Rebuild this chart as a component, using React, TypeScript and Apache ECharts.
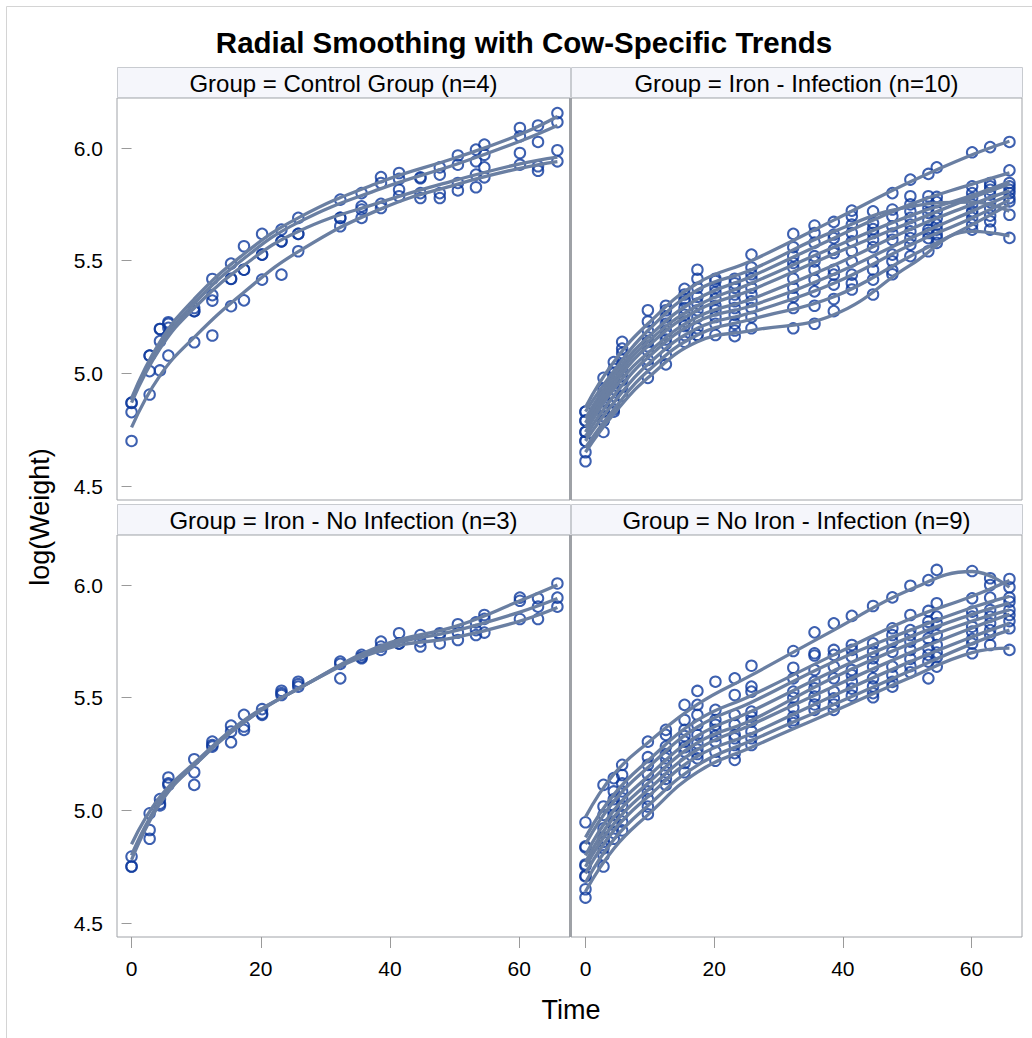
import React, { useEffect, useRef } from "react";
import * as echarts from "echarts";

// Observation times (shared by every cow)
const TIMES = [0, 2.8, 4.4, 5.7, 9.7, 12.5, 15.4, 17.4, 20.2, 23.2, 25.8, 32.3, 35.6, 38.6, 41.4, 44.7, 47.7, 50.5, 53.3, 54.6, 60.1, 62.9, 65.9];
// Times at which the fitted cow-specific trends are listed
const FIT_TIMES = [0, 4.4, 9.7, 17.4, 25.8, 38.6, 50.5, 60.1, 65.9];

const X_TICKS = [0, 20, 40, 60];
const Y_TICKS = [4.5, 5.0, 5.5, 6.0];

const PANEL_TITLES = [
  "Group = Control Group (n=4)",
  "Group = Iron - Infection (n=10)",
  "Group = Iron - No Infection (n=3)",
  "Group = No Iron - Infection (n=9)",
];

// ---- Control Group (n=4): observed log(weight)
const controlObs = [
  [4.87, 5.079, 5.197, 5.227, 5.276, 5.419, 5.487, 5.564, 5.619, 5.638, 5.69, 5.771, 5.8, 5.871, 5.889, 5.87, 5.914, 5.967, 5.993, 6.015, 6.089, 6.1, 6.155],
  [4.869, 5.01, 5.143, 5.202, 5.29, 5.347, 5.419, 5.46, 5.527, 5.586, 5.619, 5.69, 5.741, 5.845, 5.863, 5.866, 5.882, 5.926, 5.941, 5.97, 6.052, 6.027, 6.115],
  [4.828, 5.079, 5.197, 5.22, 5.276, 5.323, 5.42, 5.46, 5.527, 5.586, 5.619, 5.69, 5.727, 5.752, 5.815, 5.8, 5.8, 5.845, 5.882, 5.914, 5.978, 5.919, 5.99],
  [4.7, 4.906, 5.013, 5.079, 5.138, 5.168, 5.298, 5.324, 5.416, 5.438, 5.542, 5.653, 5.69, 5.734, 5.786, 5.778, 5.778, 5.812, 5.826, 5.87, 5.926, 5.899, 5.941],
];
const controlFit = [
  [4.89, 5.14, 5.33, 5.53, 5.69, 5.85, 5.96, 6.06, 6.14],
  [4.88, 5.12, 5.31, 5.51, 5.67, 5.82, 5.93, 6.03, 6.1],
  [4.87, 5.11, 5.29, 5.48, 5.63, 5.76, 5.86, 5.93, 5.96],
  [4.76, 4.99, 5.16, 5.36, 5.54, 5.73, 5.84, 5.91, 5.94],
];

// ---- Iron - Infection (n=10)
const ironInfObs = [
  [4.83, 4.98, 5.05, 5.14, 5.28, 5.3, 5.375, 5.46, 5.42, 5.42, 5.527, 5.619, 5.656, 5.672, 5.722, 5.719, 5.8, 5.86, 5.885, 5.914, 5.981, 6.004, 6.027],
  [4.83, 4.93, 5.02, 5.11, 5.23, 5.28, 5.35, 5.42, 5.41, 5.4, 5.47, 5.56, 5.623, 5.616, 5.697, 5.667, 5.727, 5.75, 5.76, 5.76, 5.749, 5.76, 5.704],
  [4.79, 4.9, 5.0, 5.09, 5.19, 5.25, 5.33, 5.38, 5.38, 5.38, 5.44, 5.52, 5.58, 5.6, 5.66, 5.64, 5.697, 5.786, 5.786, 5.783, 5.83, 5.845, 5.901],
  [4.79, 4.88, 4.98, 5.06, 5.16, 5.22, 5.32, 5.34, 5.36, 5.35, 5.42, 5.49, 5.52, 5.549, 5.623, 5.623, 5.653, 5.719, 5.734, 5.719, 5.778, 5.815, 5.845],
  [4.74, 4.85, 4.96, 5.04, 5.14, 5.19, 5.29, 5.31, 5.33, 5.32, 5.38, 5.47, 5.497, 5.534, 5.586, 5.593, 5.62, 5.69, 5.712, 5.69, 5.8, 5.83, 5.83],
  [4.74, 4.83, 4.93, 5.01, 5.12, 5.17, 5.26, 5.28, 5.3, 5.29, 5.35, 5.42, 5.46, 5.46, 5.542, 5.56, 5.593, 5.66, 5.68, 5.66, 5.72, 5.793, 5.815],
  [4.7, 4.81, 4.9, 4.99, 5.1, 5.15, 5.23, 5.25, 5.28, 5.26, 5.32, 5.38, 5.416, 5.438, 5.497, 5.497, 5.527, 5.63, 5.638, 5.638, 5.712, 5.734, 5.8],
  [4.7, 4.79, 4.87, 4.97, 5.06, 5.13, 5.21, 5.2, 5.25, 5.22, 5.29, 5.34, 5.364, 5.394, 5.438, 5.46, 5.497, 5.6, 5.623, 5.616, 5.69, 5.7, 5.778],
  [4.65, 4.79, 4.84, 4.94, 5.04, 5.08, 5.17, 5.17, 5.22, 5.19, 5.25, 5.29, 5.3, 5.33, 5.4, 5.416, 5.457, 5.571, 5.6, 5.6, 5.66, 5.675, 5.763],
  [4.61, 4.74, 4.83, 4.9, 4.98, 5.04, 5.14, 5.17, 5.17, 5.165, 5.2, 5.2, 5.22, 5.276, 5.372, 5.35, 5.44, 5.52, 5.542, 5.579, 5.638, 5.638, 5.601],
];
const ironInfFit = [
  [4.85, 5.05, 5.22, 5.4, 5.5, 5.68, 5.85, 5.97, 6.03],
  [4.83, 5.01, 5.19, 5.37, 5.46, 5.63, 5.74, 5.76, 5.72],
  [4.8, 4.99, 5.16, 5.33, 5.43, 5.6, 5.75, 5.84, 5.89],
  [4.78, 4.97, 5.14, 5.3, 5.4, 5.56, 5.7, 5.79, 5.85],
  [4.76, 4.95, 5.12, 5.28, 5.37, 5.53, 5.67, 5.78, 5.84],
  [4.74, 4.93, 5.09, 5.25, 5.33, 5.48, 5.64, 5.75, 5.81],
  [4.72, 4.9, 5.07, 5.23, 5.3, 5.44, 5.6, 5.72, 5.79],
  [4.7, 4.87, 5.04, 5.2, 5.27, 5.4, 5.57, 5.69, 5.77],
  [4.67, 4.84, 5.01, 5.17, 5.24, 5.34, 5.52, 5.66, 5.75],
  [4.65, 4.82, 4.98, 5.14, 5.19, 5.26, 5.48, 5.63, 5.61],
];

// ---- Iron - No Infection (n=3)
const ironNoInfObs = [
  [4.795, 4.987, 5.05, 5.146, 5.227, 5.305, 5.376, 5.424, 5.449, 5.531, 5.571, 5.66, 5.69, 5.749, 5.786, 5.778, 5.786, 5.826, 5.834, 5.867, 5.944, 5.941, 6.007],
  [4.751, 4.913, 5.03, 5.12, 5.169, 5.29, 5.35, 5.372, 5.43, 5.52, 5.56, 5.65, 5.68, 5.727, 5.74, 5.75, 5.778, 5.789, 5.8, 5.85, 5.93, 5.904, 5.944],
  [4.751, 4.874, 5.022, 5.113, 5.113, 5.283, 5.302, 5.357, 5.424, 5.512, 5.549, 5.586, 5.675, 5.712, 5.741, 5.727, 5.741, 5.756, 5.778, 5.789, 5.849, 5.849, 5.904],
];
const ironNoInfFit = [
  [4.85, 5.06, 5.21, 5.4, 5.54, 5.73, 5.82, 5.93, 6.0],
  [4.8, 5.04, 5.2, 5.39, 5.54, 5.72, 5.8, 5.88, 5.94],
  [4.78, 5.03, 5.2, 5.39, 5.54, 5.71, 5.77, 5.84, 5.9],
];

// ---- No Iron - Infection (n=9)
const noIronInfObs = [
  [4.947, 5.113, 5.143, 5.202, 5.305, 5.357, 5.468, 5.53, 5.571, 5.586, 5.642, 5.707, 5.79, 5.83, 5.863, 5.907, 5.945, 5.997, 6.022, 6.067, 6.062, 6.03, 5.99],
  [4.84, 5.017, 5.084, 5.157, 5.236, 5.335, 5.401, 5.468, 5.446, 5.512, 5.549, 5.633, 5.697, 5.712, 5.734, 5.741, 5.808, 5.867, 5.885, 5.919, 5.941, 6.0, 6.027],
  [4.835, 4.98, 5.05, 5.12, 5.202, 5.283, 5.357, 5.424, 5.401, 5.424, 5.527, 5.586, 5.687, 5.69, 5.712, 5.704, 5.778, 5.8, 5.837, 5.86, 5.882, 5.944, 5.944],
  [4.76, 4.92, 5.02, 5.084, 5.16, 5.25, 5.33, 5.38, 5.38, 5.38, 5.438, 5.527, 5.623, 5.638, 5.682, 5.675, 5.749, 5.778, 5.815, 5.83, 5.86, 5.889, 5.926],
  [4.754, 4.88, 4.98, 5.054, 5.113, 5.231, 5.305, 5.335, 5.357, 5.335, 5.416, 5.5, 5.571, 5.586, 5.623, 5.638, 5.704, 5.749, 5.763, 5.778, 5.815, 5.86, 5.889],
  [4.71, 4.86, 4.95, 5.02, 5.084, 5.2, 5.28, 5.298, 5.33, 5.32, 5.394, 5.456, 5.542, 5.527, 5.601, 5.586, 5.638, 5.712, 5.719, 5.734, 5.793, 5.83, 5.867],
  [4.707, 4.832, 4.936, 4.98, 5.05, 5.169, 5.261, 5.27, 5.305, 5.29, 5.35, 5.416, 5.505, 5.497, 5.571, 5.55, 5.6, 5.672, 5.69, 5.7, 5.76, 5.8, 5.84],
  [4.65, 4.8, 4.9, 4.95, 5.017, 5.14, 5.21, 5.25, 5.26, 5.254, 5.32, 5.4, 5.47, 5.47, 5.54, 5.52, 5.57, 5.64, 5.66, 5.68, 5.74, 5.78, 5.808],
  [4.613, 4.751, 4.874, 4.911, 4.983, 5.113, 5.169, 5.231, 5.22, 5.224, 5.29, 5.387, 5.446, 5.446, 5.509, 5.502, 5.549, 5.613, 5.586, 5.638, 5.697, 5.734, 5.712],
];
const noIronInfFit = [
  [4.97, 5.16, 5.3, 5.47, 5.6, 5.8, 5.98, 6.06, 5.99],
  [4.88, 5.07, 5.22, 5.4, 5.51, 5.69, 5.85, 5.95, 6.02],
  [4.85, 5.04, 5.19, 5.37, 5.48, 5.66, 5.8, 5.9, 5.95],
  [4.8, 5.0, 5.15, 5.33, 5.44, 5.62, 5.77, 5.87, 5.92],
  [4.77, 4.97, 5.12, 5.3, 5.4, 5.59, 5.74, 5.84, 5.89],
  [4.75, 4.94, 5.09, 5.27, 5.38, 5.55, 5.7, 5.81, 5.87],
  [4.72, 4.91, 5.06, 5.24, 5.34, 5.51, 5.66, 5.77, 5.83],
  [4.68, 4.87, 5.02, 5.2, 5.31, 5.47, 5.62, 5.74, 5.8],
  [4.64, 4.83, 4.98, 5.17, 5.28, 5.44, 5.59, 5.7, 5.72],
];

const PANEL_OBS = [controlObs, ironInfObs, ironNoInfObs, noIronInfObs];
const PANEL_FIT = [controlFit, ironInfFit, ironNoInfFit, noIronInfFit];

const FONT = "'Liberation Sans', Arial, sans-serif";
const MARKER = "#0c389c";
const LINE = "#6a7fa2";
const BORDER = "#a0a3a8";

const GRIDS = [
  { left: 117, top: 98, width: 453, height: 402 },
  { left: 571, top: 98, width: 451, height: 402 },
  { left: 117, top: 535, width: 453, height: 402 },
  { left: 571, top: 535, width: 451, height: 402 },
];

export default function App() {
  const ref = useRef<HTMLDivElement>(null);

  useEffect(() => {
    const chart = echarts.init(ref.current!, null, { renderer: "svg" });

    const series: any[] = [];
    PANEL_OBS.forEach((cows, p) => {
      const pts: number[][] = [];
      cows.forEach((row) => row.forEach((v, i) => pts.push([TIMES[i], v])));
      series.push({
        type: "scatter",
        xAxisIndex: p,
        yAxisIndex: p,
        data: pts,
        symbol: "circle",
        symbolSize: 10.5,
        itemStyle: { color: "rgba(0,0,0,0)", borderColor: MARKER, borderWidth: 2 },
        silent: true,
        z: 2,
      });
    });
    PANEL_FIT.forEach((cows, p) => {
      cows.forEach((row) => {
        series.push({
          type: "line",
          xAxisIndex: p,
          yAxisIndex: p,
          data: row.map((v, i) => [FIT_TIMES[i], v]),
          showSymbol: false,
          symbol: "none",
          smooth: 0.45,
          lineStyle: { color: LINE, width: 3.3 },
          silent: true,
          z: 3,
        });
      });
    });

    const headerEls: any[] = [];
    GRIDS.forEach((g, p) => {
      const top = p < 2 ? 67 : 504;
      headerEls.push({
        type: "rect",
        shape: { x: g.left + 0.5, y: top + 0.5, width: g.width, height: 30 },
        style: { fill: "#f5f6fb", stroke: "#c8cbd0", lineWidth: 1 },
        silent: true,
      });
      headerEls.push({
        type: "text",
        x: g.left + g.width / 2,
        y: top + 16,
        style: {
          text: PANEL_TITLES[p],
          fontSize: 24,
          fontFamily: FONT,
          fill: "#000",
          textAlign: "center",
          textVerticalAlign: "middle",
        },
        silent: true,
      });
    });

    const option: any = {
      animation: false,
      backgroundColor: "#fff",
      grid: GRIDS.map((g) => ({
        ...g,
        show: true,
        borderColor: BORDER,
        borderWidth: 1,
        backgroundColor: "#fff",
        containLabel: false,
      })),
      xAxis: GRIDS.map((_, i) => ({
        type: "value",
        gridIndex: i,
        min: -2.25,
        max: 67.85,
        axisLine: { show: false },
        splitLine: { show: false },
        axisTick: {
          show: i >= 2,
          length: 11,
          customValues: X_TICKS,
          lineStyle: { color: "#9a9a9a" },
        },
        axisLabel: {
          show: i >= 2,
          customValues: X_TICKS,
          fontSize: 21,
          fontFamily: FONT,
          color: "#000",
          margin: 21,
        },
      })),
      yAxis: GRIDS.map((_, i) => ({
        type: "value",
        gridIndex: i,
        min: 4.438,
        max: 6.222,
        axisLine: { show: false },
        splitLine: { show: false },
        axisTick: {
          show: i % 2 === 0,
          length: 10,
          customValues: Y_TICKS,
          lineStyle: { color: "#9a9a9a" },
        },
        axisLabel: {
          show: i % 2 === 0,
          customValues: Y_TICKS,
          formatter: (v: number) => v.toFixed(1),
          fontSize: 21,
          fontFamily: FONT,
          color: "#000",
          margin: 14,
        },
      })),
      series,
      graphic: [
        {
          type: "polyline",
          shape: { points: [[6.5, 1038], [6.5, 6.5], [1032, 6.5]] },
          style: { stroke: "#d4d4d4", lineWidth: 1, fill: "none" },
          silent: true,
        },
        {
          type: "rect",
          shape: { x: 569, y: 98, width: 3, height: 402 },
          style: { fill: "#9ea1a6" },
          silent: true,
        },
        {
          type: "rect",
          shape: { x: 569, y: 535, width: 3, height: 402 },
          style: { fill: "#9ea1a6" },
          silent: true,
        },
        {
          type: "text",
          x: 524,
          y: 42,
          style: {
            text: "Radial Smoothing with Cow-Specific Trends",
            fontSize: 29.5,
            fontWeight: "bold",
            fontFamily: FONT,
            fill: "#000",
            textAlign: "center",
            textVerticalAlign: "middle",
          },
          silent: true,
        },
        ...headerEls,
        {
          type: "text",
          x: 40,
          y: 517,
          rotation: Math.PI / 2,
          style: {
            text: "log(Weight)",
            fontSize: 27,
            fontFamily: FONT,
            fill: "#000",
            textAlign: "center",
            textVerticalAlign: "middle",
          },
          silent: true,
        },
        {
          type: "text",
          x: 571,
          y: 1010,
          style: {
            text: "Time",
            fontSize: 27,
            fontFamily: FONT,
            fill: "#000",
            textAlign: "center",
            textVerticalAlign: "middle",
          },
          silent: true,
        },
      ],
    };

    chart.setOption(option);
    return () => chart.dispose();
  }, []);

  return (
    <div
      ref={ref}
      style={{ position: "absolute", left: 0, top: 0, width: 1032, height: 1038 }}
    />
  );
}
